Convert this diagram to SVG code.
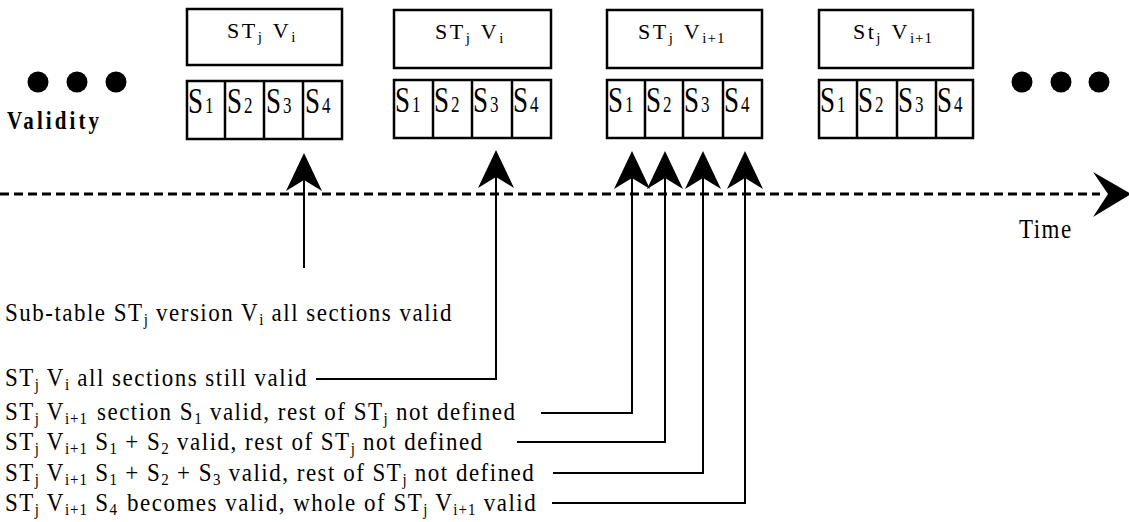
<svg xmlns="http://www.w3.org/2000/svg" width="1129" height="522" viewBox="0 0 1129 522">
<style>
  .box { fill: #fff; stroke: #000; stroke-width: 2.5; }
  .cell { fill: none; stroke: #000; stroke-width: 2.5; }
  .t { font-family: "Liberation Serif", "Times New Roman", serif; font-size: 23px; fill: #000; letter-spacing: 1.5px; }
  .tt { font-family: "Liberation Serif", "Times New Roman", serif; font-size: 22px; fill: #000; letter-spacing: 2.5px; }
  .sc { font-family: "Liberation Serif", "Times New Roman", serif; font-size: 27px; fill: #000; }
  .sc .sub { font-size: 17px; }
  .sub { font-size: 15px; letter-spacing: 1px; }
  .dot { fill: #000; }
  .ln { fill: none; stroke: #000; stroke-width: 2; }
  .div { fill: none; stroke: #000; stroke-width: 2.5; }
  .dash { fill: none; stroke: #000; stroke-width: 3; stroke-dasharray: 9 5; }
  .head { fill: #000; stroke: none; }
</style>
<defs>
  <path id="uphead" d="M0,0 L18,38 L0,27 L-18,38 Z"/>
</defs>

<g id="dots-left">
  <circle class="dot" cx="38" cy="82" r="10.5"/>
  <circle class="dot" cx="77" cy="82" r="10.5"/>
  <circle class="dot" cx="116" cy="82" r="10.5"/>
</g>
<g id="dots-right">
  <circle class="dot" cx="1022" cy="82" r="10.5"/>
  <circle class="dot" cx="1061" cy="82" r="10.5"/>
  <circle class="dot" cx="1099" cy="82" r="10.5"/>
</g>
<text id="validity" transform="translate(7,129) scale(1,1.2)" font-family="Liberation Serif, serif" font-weight="bold" font-size="21" letter-spacing="3.1">Validity</text>

<g id="node1">
  <rect class="box" x="187" y="9" width="155" height="56"/>
  <text class="tt" x="227" y="38">ST<tspan class="sub" dy="4">j</tspan><tspan dx="10" dy="-4">V</tspan><tspan class="sub" dy="4">i</tspan></text>
  <rect class="cell" x="187" y="81" width="155" height="58"/>
  <path class="div" d="M225,81 V139 M264,81 V139 M303,81 V139"/>
  <text class="sc" transform="translate(188,113) scale(1,1.3)">S<tspan class="sub" dx="2">1</tspan></text>
  <text class="sc" transform="translate(227,113) scale(1,1.3)">S<tspan class="sub" dx="2">2</tspan></text>
  <text class="sc" transform="translate(266,113) scale(1,1.3)">S<tspan class="sub" dx="2">3</tspan></text>
  <text class="sc" transform="translate(305,113) scale(1,1.3)">S<tspan class="sub" dx="2">4</tspan></text>
</g>

<g id="node2">
  <rect class="box" x="394" y="10" width="157" height="58"/>
  <text class="tt" x="435" y="39">ST<tspan class="sub" dy="4">j</tspan><tspan dx="10" dy="-4">V</tspan><tspan class="sub" dy="4">i</tspan></text>
  <rect class="cell" x="394" y="80" width="157" height="58"/>
  <path class="div" d="M433,80 V138 M472,80 V138 M512,80 V138"/>
  <text class="sc" transform="translate(395,112) scale(1,1.3)">S<tspan class="sub" dx="2">1</tspan></text>
  <text class="sc" transform="translate(434,112) scale(1,1.3)">S<tspan class="sub" dx="2">2</tspan></text>
  <text class="sc" transform="translate(473,112) scale(1,1.3)">S<tspan class="sub" dx="2">3</tspan></text>
  <text class="sc" transform="translate(513,112) scale(1,1.3)">S<tspan class="sub" dx="2">4</tspan></text>
</g>

<g id="node3">
  <rect class="box" x="607" y="10" width="155" height="58"/>
  <text class="tt" x="638" y="39">ST<tspan class="sub" dy="4">j</tspan><tspan dx="10" dy="-4">V</tspan><tspan class="sub" dy="4">i+1</tspan></text>
  <rect class="cell" x="607" y="80" width="155" height="58"/>
  <path class="div" d="M645,80 V138 M683,80 V138 M723,80 V138"/>
  <text class="sc" transform="translate(608,112) scale(1,1.3)">S<tspan class="sub" dx="2">1</tspan></text>
  <text class="sc" transform="translate(646,112) scale(1,1.3)">S<tspan class="sub" dx="2">2</tspan></text>
  <text class="sc" transform="translate(684,112) scale(1,1.3)">S<tspan class="sub" dx="2">3</tspan></text>
  <text class="sc" transform="translate(724,112) scale(1,1.3)">S<tspan class="sub" dx="2">4</tspan></text>
</g>

<g id="node4">
  <rect class="box" x="819" y="10" width="154" height="58"/>
  <text class="tt" x="853" y="39">St<tspan class="sub" dy="4">j</tspan><tspan dx="10" dy="-4">V</tspan><tspan class="sub" dy="4">i+1</tspan></text>
  <rect class="cell" x="819" y="80" width="154" height="58"/>
  <path class="div" d="M857,80 V138 M897,80 V138 M936,80 V138"/>
  <text class="sc" transform="translate(820,112) scale(1,1.3)">S<tspan class="sub" dx="2">1</tspan></text>
  <text class="sc" transform="translate(858,112) scale(1,1.3)">S<tspan class="sub" dx="2">2</tspan></text>
  <text class="sc" transform="translate(898,112) scale(1,1.3)">S<tspan class="sub" dx="2">3</tspan></text>
  <text class="sc" transform="translate(937,112) scale(1,1.3)">S<tspan class="sub" dx="2">4</tspan></text>
</g>

<g id="timeline">
  <path class="dash" d="M0,194 H1100"/>
  <path class="head" d="M1131,194 L1093,172 L1108,194 L1093,217 Z"/>
  <text class="t" transform="translate(1019,238) scale(1,1.2)" font-size="20" letter-spacing="3.5">Time</text>
</g>

<g id="connectors">
  <path class="ln" d="M304,175 V268"/>
  <use href="#uphead" x="304" y="153" class="head"/>
  <path class="ln" d="M496,170 V379 H316"/>
  <use href="#uphead" x="496" y="150" class="head"/>
  <path class="ln" d="M632,170 V413 H541"/>
  <use href="#uphead" x="632" y="151" class="head"/>
  <path class="ln" d="M665,170 V442 H517"/>
  <use href="#uphead" x="665" y="151" class="head"/>
  <path class="ln" d="M703,170 V473 H553"/>
  <use href="#uphead" x="703" y="151" class="head"/>
  <path class="ln" d="M745,170 V503 H552"/>
  <use href="#uphead" x="745" y="151" class="head"/>
</g>

<g id="labels">
  <text class="t" transform="translate(5,321) scale(1,1.1)">Sub-table ST<tspan class="sub" dy="4">j</tspan><tspan dy="-4"> version V</tspan><tspan class="sub" dy="4">i</tspan><tspan dy="-4"> all sections valid</tspan></text>
  <text class="t" transform="translate(5,386) scale(1,1.1)">ST<tspan class="sub" dy="4">j</tspan><tspan dy="-4"> V</tspan><tspan class="sub" dy="4">i</tspan><tspan dy="-4"> all sections still valid</tspan></text>
  <text class="t" transform="translate(5,420) scale(1,1.1)">ST<tspan class="sub" dy="4">j</tspan><tspan dy="-4"> V</tspan><tspan class="sub" dy="4">i+1</tspan><tspan dy="-4" dx="9">section S</tspan><tspan class="sub" dy="4">1</tspan><tspan dy="-4"> valid, rest of ST</tspan><tspan class="sub" dy="4">j</tspan><tspan dy="-4"> not defined</tspan></text>
  <text class="t" transform="translate(5,450) scale(1,1.1)">ST<tspan class="sub" dy="4">j</tspan><tspan dy="-4"> V</tspan><tspan class="sub" dy="4">i+1</tspan><tspan dy="-4"> S</tspan><tspan class="sub" dy="4">1</tspan><tspan dy="-4"> + S</tspan><tspan class="sub" dy="4">2</tspan><tspan dy="-4"> valid, rest of ST</tspan><tspan class="sub" dy="4">j</tspan><tspan dy="-4"> not defined</tspan></text>
  <text class="t" transform="translate(5,481) scale(1,1.1)">ST<tspan class="sub" dy="4">j</tspan><tspan dy="-4"> V</tspan><tspan class="sub" dy="4">i+1</tspan><tspan dy="-4"> S</tspan><tspan class="sub" dy="4">1</tspan><tspan dy="-4"> + S</tspan><tspan class="sub" dy="4">2</tspan><tspan dy="-4"> + S</tspan><tspan class="sub" dy="4">3</tspan><tspan dy="-4"> valid, rest of ST</tspan><tspan class="sub" dy="4">j</tspan><tspan dy="-4"> not defined</tspan></text>
  <text class="t" transform="translate(5,511) scale(1,1.1)">ST<tspan class="sub" dy="4">j</tspan><tspan dy="-4"> V</tspan><tspan class="sub" dy="4">i+1</tspan><tspan dy="-4"> S</tspan><tspan class="sub" dy="4">4</tspan><tspan dy="-4" dx="9">becomes valid, whole of ST</tspan><tspan class="sub" dy="4">j</tspan><tspan dy="-4"> V</tspan><tspan class="sub" dy="4">i+1</tspan><tspan dy="-4"> valid</tspan></text>
</g>
</svg>
